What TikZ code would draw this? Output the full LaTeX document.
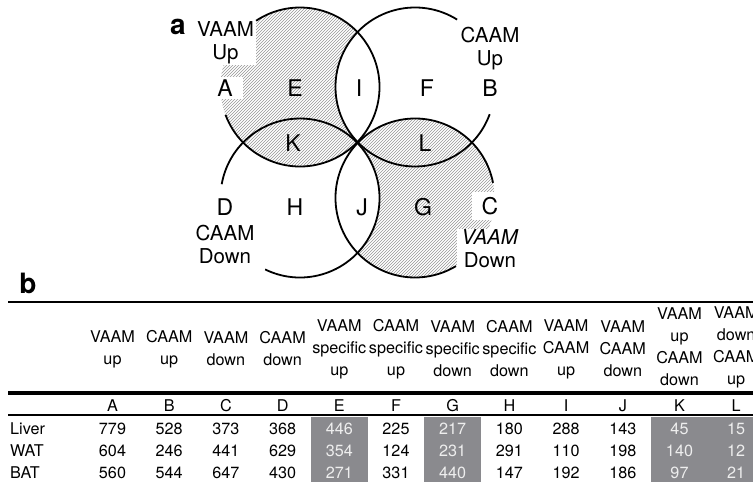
\documentclass[tikz,border=0pt]{standalone}
\usepackage{fontspec}
\setmainfont{TeX Gyre Heros}
\usetikzlibrary{patterns}
\definecolor{cellgray}{RGB}{138,138,142}
\definecolor{celltext}{RGB}{238,238,238}
\definecolor{hatch}{RGB}{150,150,150}
\begin{document}
\begin{tikzpicture}[x=1pt,y=1pt,
  circ/.style={line width=1.8pt},
  vlab/.style={font=\fontsize{20.5}{23}\selectfont, align=center, inner sep=1pt},
  wlab/.style={vlab, fill=white},
  reg/.style={font=\fontsize{23}{25}\selectfont, inner sep=1pt},
  wreg/.style={reg, fill=white},
  panel/.style={font=\fontsize{28}{28}\selectfont\bfseries, inner sep=0pt},
  hdr/.style={font=\fontsize{16.2}{22}\selectfont, align=center, inner sep=0pt},
  cell/.style={font=\fontsize{16.2}{20}\selectfont, inner sep=0pt},
  rowlab/.style={cell, anchor=west},
  rulethin/.style={line width=1.9pt},
  rulethick/.style={line width=3.2pt}
]
\useasboundingbox (0,0) rectangle (753,-490);
\clip (0,0) rectangle (753,-490);
\fill[white] (0,0) rectangle (753,-490);

% ---------- Venn diagram ----------
\coordinate (cA) at (300,-87);
\coordinate (cB) at (415,-87);
\coordinate (cD) at (300,-198);
\coordinate (cC) at (415,-198);

\fill[pattern=north east lines, pattern color=hatch] (cA) circle[radius=79.5];
\begin{scope}
  \clip (cA) circle[radius=79.5];
  \fill[white] (cB) circle[radius=79.5];
\end{scope}
\fill[pattern=north east lines, pattern color=hatch] (cC) circle[radius=79.5];
\begin{scope}
  \clip (cC) circle[radius=79.5];
  \fill[white] (cD) circle[radius=79.5];
\end{scope}

\node[panel] (pa) at (178,-27) {a};
\node[wlab, inner xsep=2pt] (vaamup) at (225.5,-43) {VAAM\\Up};
\node[wreg, inner xsep=10pt, inner ysep=3pt] (lA) at (225,-88) {A};
\node[reg] (lE) at (295,-88) {E};
\node[reg] (lI) at (359,-88) {I};
\node[reg] (lF) at (427,-88) {F};
\node[reg] (lB) at (490,-88) {B};
\node[vlab] (caamup) at (490,-49) {CAAM\\Up};
\node[reg] (lK) at (293,-143) {K};
\node[reg] (lL) at (425,-143) {L};
\node[reg] (lD) at (225,-207) {D};
\node[reg] (lH) at (295,-207) {H};
\node[reg] (lJ) at (362,-207) {J};
\node[reg] (lG) at (423,-207) {G};
\node[wreg, inner xsep=10pt, inner ysep=5pt] (lC) at (490,-206) {C};
\node[vlab] (caamdown) at (225,-244) {CAAM\\Down};
\node[wlab, inner xsep=4pt] (vaamdown) at (490,-249) {\textit{VAAM}\\Down};

\draw[circ] (cA) ++(200.5:79.5) arc[start angle=200.5, end angle=483.5, radius=79.5];
\draw[circ] (cB) ++(58:79.5) arc[start angle=58, end angle=340, radius=79.5];
\draw[circ] (cD) ++(244:79.5) arc[start angle=244, end angle=530, radius=79.5];
\draw[circ] (cC) ++(11:79.5) arc[start angle=11, end angle=301, radius=79.5];

% ---------- Table ----------
\node[panel] (pb) at (28,-283) {b};

\fill[cellgray] (311,-417) rectangle (367.7,-482);
\fill[cellgray] (424.4,-417) rectangle (481.1,-482);
\fill[cellgray] (651.2,-417) rectangle (753,-482);

\draw[rulethin] (8,-302) -- (753,-302);
\draw[rulethick] (8,-393) -- (753,-393);
\draw[rulethin] (8,-415) -- (753,-415);

\node[hdr] (hA) at (112.5,-349) {VAAM\\up};
\node[hdr] (hB) at (169.2,-349) {CAAM\\up};
\node[hdr] (hC) at (225.9,-349) {VAAM\\down};
\node[hdr] (hD) at (282.6,-349) {CAAM\\down};
\node[hdr] (hE) at (339.3,-349) {VAAM\\specific\\up};
\node[hdr] (hF) at (396.0,-349) {CAAM\\specific\\up};
\node[hdr] (hG) at (452.7,-349) {VAAM\\specific\\down};
\node[hdr] (hH) at (509.4,-349) {CAAM\\specific\\down};
\node[hdr] (hI) at (566.1,-349) {VAAM\\CAAM\\up};
\node[hdr] (hJ) at (622.8,-349) {VAAM\\CAAM\\down};
\node[hdr] (hK) at (679.5,-347) {VAAM\\up\\CAAM\\down};
\node[hdr] (hL) at (736.2,-347) {VAAM\\down\\CAAM\\up};

\foreach \t [count=\i] in {A,B,C,D,E,F,G,H,I,J,K,L}
  \node[cell] (k\i) at ({112.5+56.7*(\i-1)},-405.5) {\t};

\node[rowlab] (rliver) at (10,-428.5) {Liver};
\node[rowlab] (rwat) at (10,-450.5) {WAT};
\node[rowlab] (rbat) at (10,-472.5) {BAT};

\foreach \v/\c [count=\i] in {779/black,528/black,373/black,368/black,446/celltext,225/black,217/celltext,180/black,288/black,143/black,45/celltext,15/celltext}
  \node[cell, text=\c] (liver\i) at ({112.5+56.7*(\i-1)},-428.5) {\v};
\foreach \v/\c [count=\i] in {604/black,246/black,441/black,629/black,354/celltext,124/black,231/celltext,291/black,110/black,198/black,140/celltext,12/celltext}
  \node[cell, text=\c] (wat\i) at ({112.5+56.7*(\i-1)},-450.5) {\v};
\foreach \v/\c [count=\i] in {560/black,544/black,647/black,430/black,271/celltext,331/black,440/celltext,147/black,192/black,186/black,97/celltext,21/celltext}
  \node[cell, text=\c] (bat\i) at ({112.5+56.7*(\i-1)},-472.5) {\v};
\end{tikzpicture}
\end{document}
